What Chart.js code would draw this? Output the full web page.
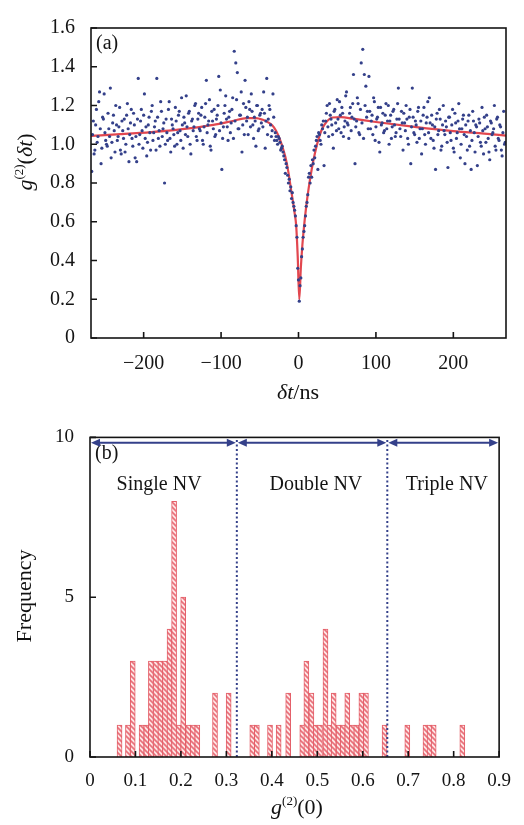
<!DOCTYPE html>
<html><head><meta charset="utf-8">
<script src="https://cdn.jsdelivr.net/npm/chart.js@4/dist/chart.umd.min.js"></script>
<style>
html,body{margin:0;padding:0;background:#fff;width:524px;height:825px;overflow:hidden;}
#cA{position:absolute;left:0;top:0;}
#cB{position:absolute;left:0;top:410px;}
.t{position:absolute;font-family:'Liberation Serif','Times New Roman',serif;font-size:22px;color:#111;white-space:nowrap;line-height:1;}
.rot{transform:translate(-50%,-50%) rotate(-90deg);}
.ctr{transform:translate(-50%,-50%);}
.sup{font-size:13px;position:relative;top:-9px;}
</style></head>
<body>
<canvas id="cA" width="524" height="410"></canvas>
<canvas id="cB" width="524" height="415"></canvas>
<div class="t rot" style="left:25px;top:162px;"><i>g</i><span class="sup">(2)</span>(<i>δt</i>)</div>
<div class="t ctr" style="left:298px;top:392px;"><i>δt</i>/ns</div>
<div class="t rot" style="left:24px;top:596px;">Frequency</div>
<div class="t ctr" style="left:297px;top:807px;"><i>g</i><span class="sup">(2)</span>(0)</div>
<script>
// ---------- (a) g2(δt) measurement: odd-ns bins ----------
const delayNs = [
-267,-265,-263,-261,-259,-257,-255,-253,-251,-249,
-247,-245,-243,-241,-239,-237,-235,-233,-231,-229,
-227,-225,-223,-221,-219,-217,-215,-213,-211,-209,
-207,-205,-203,-201,-199,-197,-195,-193,-191,-189,
-187,-185,-183,-181,-179,-177,-175,-173,-171,-169,
-167,-165,-163,-161,-159,-157,-155,-153,-151,-149,
-147,-145,-143,-141,-139,-137,-135,-133,-131,-129,
-127,-125,-123,-121,-119,-117,-115,-113,-111,-109,
-107,-105,-103,-101,-99,-97,-95,-93,-91,-89,
-87,-85,-83,-81,-79,-77,-75,-73,-71,-69,
-67,-65,-63,-61,-59,-57,-55,-53,-51,-49,
-47,-45,-43,-41,-39,-37,-35,-33,-31,-29,
-27,-25,-23,-21,-19,-17,-15,-13,-11,-9,
-7,-5,-3,-1,1,3,5,7,9,11,
13,15,17,19,21,23,25,27,29,
31,33,35,37,39,41,43,45,47,49,
51,53,55,57,59,61,63,65,67,69,
71,73,75,77,79,81,83,85,87,89,
91,93,95,97,99,101,103,105,107,109,
111,113,115,117,119,121,123,125,127,129,
131,133,135,137,139,141,143,145,147,149,
151,153,155,157,159,161,163,165,167,169,
171,173,175,177,179,181,183,185,187,189,
191,193,195,197,199,201,203,205,207,209,
211,213,215,217,219,221,223,225,227,229,
231,233,235,237,239,241,243,245,247,249,
251,253,255,257,259,261,263,265,267];
const g2Measured = [
0.86,1.12,0.97,1.18,1.04,1.27,0.90,1.14,1.26,1.02,
0.99,1.08,1.29,1.01,1.15,0.96,1.10,1.04,1.19,0.95,
1.07,1.13,1.00,1.21,0.91,1.11,1.03,1.16,0.93,0.91,
1.34,1.05,1.18,0.98,1.26,1.09,1.01,1.14,0.97,1.20,
1.06,1.12,1.34,1.03,0.99,1.17,1.08,0.80,1.13,1.02,
1.22,0.96,1.10,1.05,1.19,1.00,1.15,1.07,1.24,0.98,
1.11,1.25,1.04,1.17,0.95,1.13,1.09,1.21,1.02,1.16,
1.07,1.19,1.00,1.14,1.33,1.10,1.23,0.97,1.12,1.18,
1.05,1.15,1.35,1.28,0.87,1.09,1.20,1.13,1.02,1.17,
1.11,1.24,1.48,1.42,1.37,1.08,1.15,0.96,1.21,1.33,
1.12,1.05,1.18,1.26,1.10,1.14,0.99,1.20,1.08,1.16,
1.18,1.27,0.98,1.34,1.13,1.18,1.04,1.26,1.02,1.04,
1.00,1.03,0.97,0.99,0.94,0.85,0.88,0.80,0.76,0.72,
0.70,0.66,0.58,0.36,0.19,0.31,0.46,0.55,0.63,0.70,
0.83,0.80,0.83,0.90,0.93,1.02,0.87,1.05,1.00,
1.08,0.89,1.12,1.20,1.04,1.15,1.10,0.98,1.18,1.07,
1.13,1.22,1.06,1.16,1.09,1.25,1.11,1.03,1.19,1.14,
1.36,0.90,1.12,1.21,1.05,1.42,1.49,1.36,1.30,1.17,
1.35,1.08,1.15,1.24,1.02,1.13,1.19,0.96,1.10,1.16,
1.07,1.21,1.12,1.00,1.15,1.09,1.18,1.04,1.13,1.29,
1.08,1.17,0.97,1.11,1.20,1.03,1.14,0.90,1.29,1.06,
1.12,1.01,1.19,1.08,0.95,1.15,1.05,1.11,1.22,1.24,
1.03,1.10,0.98,0.87,1.16,1.07,1.13,0.99,1.20,1.05,
1.09,0.88,1.14,1.02,1.18,0.96,1.11,1.06,1.21,0.93,
1.08,1.15,0.90,1.04,1.12,0.99,0.87,1.17,1.06,1.10,
0.89,1.13,1.01,1.19,0.95,1.08,1.15,1.03,0.92,1.11,
1.06,1.20,0.97,1.14,1.02,1.09,0.94,1.17,1.01];
// ---------- (a) even-ns bins ----------
const delayNsEven = [
-266,-264,-262,-260,-258,-256,-254,-252,-250,-248,
-246,-244,-242,-240,-238,-236,-234,-232,-230,-228,
-226,-224,-222,-220,-218,-216,-214,-212,-210,-208,
-206,-204,-202,-200,-198,-196,-194,-192,-190,-188,
-186,-184,-182,-180,-178,-176,-174,-172,-170,-168,
-166,-164,-162,-160,-158,-156,-154,-152,-150,-148,
-146,-144,-142,-140,-138,-136,-134,-132,-130,-128,
-126,-124,-122,-120,-118,-116,-114,-112,-110,-108,
-106,-104,-102,-100,-98,-96,-94,-92,-90,-88,
-86,-84,-82,-80,-78,-76,-74,-72,-70,-68,
-66,-64,-62,-60,-58,-56,-54,-52,-50,-48,
-46,-44,-42,-40,-38,-36,-34,-32,-30,-28,
-26,-24,-22,-20,-18,-16,-14,-12,-10,-8,
-6,-4,-2,0,2,4,6,8,10,12,
14,16,18,20,22,24,26,28,30,
32,34,36,38,40,42,44,46,48,50,
52,54,56,58,60,62,64,66,68,70,
72,74,76,78,80,82,84,86,88,90,
92,94,96,98,100,102,104,106,108,110,
112,114,116,118,120,122,124,126,128,130,
132,134,136,138,140,142,144,146,148,150,
152,154,156,158,160,162,164,166,168,170,
172,174,176,178,180,182,184,186,188,190,
192,194,196,198,200,202,204,206,208,210,
212,214,216,218,220,222,224,226,228,230,
232,234,236,238,240,242,244,246,248,250,
252,254,256,258,260,262,264,266];
const g2MeasuredEven = [
1.05,0.95,1.10,1.01,1.22,1.08,0.98,1.13,1.06,1.00,
1.16,1.04,0.93,1.11,1.07,1.20,1.02,1.09,0.97,1.12,
1.03,0.96,1.15,1.08,1.05,1.18,0.99,1.10,1.04,1.13,
1.00,1.12,1.07,1.15,1.03,0.94,1.10,1.06,1.17,1.02,
1.09,0.97,1.14,1.07,1.22,1.04,1.11,1.00,1.06,1.18,
1.03,1.13,1.08,0.99,1.12,1.06,1.17,1.02,1.10,1.14,
1.05,1.09,1.16,1.00,1.12,1.07,1.20,1.04,1.13,1.08,
1.15,1.02,1.09,1.21,1.06,1.12,0.99,1.17,1.08,1.04,
1.13,1.20,1.07,1.11,1.03,1.16,1.25,1.09,1.14,1.06,
1.18,1.03,1.12,1.23,1.08,1.15,1.27,1.10,1.05,1.19,
1.14,1.22,1.09,1.17,1.03,1.12,1.20,1.07,1.15,1.11,
1.09,1.16,1.12,1.05,1.20,1.10,1.07,1.14,1.06,1.02,
1.04,1.01,0.98,0.96,0.92,0.90,0.84,0.82,0.78,0.75,
0.68,0.63,0.52,0.30,0.27,0.42,0.52,0.58,0.68,0.74,
0.85,0.89,0.92,0.97,0.99,1.04,1.06,1.02,1.10,
1.12,1.06,1.16,1.09,1.21,1.13,1.05,1.17,1.11,1.23,
1.08,1.15,1.19,1.04,1.12,1.27,1.10,1.16,1.07,1.21,
1.13,1.09,1.24,1.06,1.18,1.11,1.03,1.20,1.14,1.08,
1.17,1.12,1.05,1.22,1.09,1.14,1.01,1.19,1.11,1.06,
1.15,1.08,1.20,1.12,1.03,1.17,1.10,1.06,1.21,1.13,
1.04,1.11,1.16,1.07,1.13,1.00,1.18,1.09,1.14,1.05,
1.10,1.17,1.03,1.12,1.08,1.19,1.00,1.14,1.06,1.11,
1.15,1.02,1.09,1.13,1.05,1.18,0.97,1.10,1.07,1.12,
1.01,1.14,1.06,1.10,0.98,1.16,1.03,1.12,1.08,1.00,
1.13,1.05,1.10,0.97,1.15,1.07,1.02,1.12,0.96,1.09,
1.04,1.11,0.99,1.07,1.14,1.01,1.09,0.96,1.12,1.05,
1.08,0.99,1.13,1.03,1.10,0.97,1.06,1.00];
const fitDelayNs = [-268,-230,-190,-150,-110,-85,-67,-55,-46,-40,-34,-29,-25,-21,-17,-13,-10,-7,-5,-3,-1,1,3,5,7,10,13,17,21,25,30,36,44,55,70,100,150,200,240,268];
const g2Fit = [1.043,1.052,1.063,1.078,1.100,1.120,1.135,1.135,1.126,1.115,1.098,1.070,1.035,0.990,0.935,0.855,0.775,0.700,0.645,0.580,0.420,0.200,0.360,0.480,0.570,0.680,0.770,0.870,0.950,1.015,1.075,1.115,1.138,1.140,1.132,1.115,1.090,1.068,1.055,1.045];
const topXRange = [-268, 268];
const topXTicks = [-200, -100, 0, 100, 200];
const topYTicks = [0, 0.2, 0.4, 0.6, 0.8, 1.0, 1.2, 1.4, 1.6];

// ---------- (b) histogram of g2(0) ----------
const g2ZeroBins = [0.065,0.0835,0.094,0.1135,0.124,0.134,0.145,0.155,0.165,0.175,0.185,0.195,0.205,0.216,0.226,0.236,0.275,0.305,0.357,0.367,0.396,0.415,0.436,0.467,0.476,0.487,0.497,0.506,0.518,0.527,0.536,0.547,0.556,0.566,0.576,0.586,0.597,0.607,0.648,0.698,0.738,0.747,0.756,0.819];
const frequency = [1,1,3,1,1,3,3,3,3,4,8,1,5,1,1,1,2,2,1,1,1,1,2,1,3,2,1,1,4,1,2,1,1,2,1,1,2,2,1,1,1,1,1,1];
const regionBounds = [0, 0.323, 0.654, 0.9];
const regionNames = ['Single NV', 'Double NV', 'Triple NV'];
const regionLabelX = [0.152, 0.497, 0.785];
const regionLabelY = 8.52;
const arrowLevel = 9.83;
const botXTicks = [0, 0.1, 0.2, 0.3, 0.4, 0.5, 0.6, 0.7, 0.8, 0.9];
const botYTicks = [0, 5, 10];

// ---------- styling ----------
const FONT = "'Liberation Serif','Times New Roman',serif";
const tickFontA = {family: FONT, size: 20};
const tickFontB = {family: FONT, size: 19};
const INK = '#141414';
const NAVY = '#34408a';

const boxPlugin = {
  id: 'boxTicks',
  afterDatasetsDraw(chart) {
    const {ctx, chartArea: a} = chart;
    const xs = chart.scales.x, ys = chart.scales.y;
    ctx.save();
    ctx.strokeStyle = INK;
    ctx.lineWidth = 1.6;
    ctx.beginPath();
    xs.ticks.forEach(t => { const p = xs.getPixelForValue(t.value); ctx.moveTo(p, a.bottom); ctx.lineTo(p, a.bottom - 6); });
    ys.ticks.forEach(t => { const p = ys.getPixelForValue(t.value); ctx.moveTo(a.left, p); ctx.lineTo(a.left + 6, p); });
    ctx.stroke();
    ctx.strokeRect(a.left, a.top, a.right - a.left, a.bottom - a.top);
    ctx.restore();
  }
};

const panelLabel = (txt) => ({
  id: 'panel',
  afterDatasetsDraw(chart) {
    const {ctx, chartArea: a} = chart;
    ctx.save();
    ctx.font = "20px " + FONT;
    ctx.fillStyle = INK;
    ctx.textBaseline = 'middle';
    ctx.fillText(txt, a.left + 5, a.top + 16);
    ctx.restore();
  }
});

const fixedTicks = arr => (s => { s.ticks = arr.map(v => ({value: v})); });

const measuredPoints = delayNs.map((x, i) => ({x, y: g2Measured[i]}))
  .concat(delayNsEven.map((x, i) => ({x, y: g2MeasuredEven[i]})));

// ---------- chart (a) ----------
new Chart(document.getElementById('cA'), {
  data: {
    datasets: [
      {type: 'scatter', data: measuredPoints,
       pointRadius: 1.6, pointHoverRadius: 1.6, pointBackgroundColor: NAVY, pointBorderWidth: 0, order: 0},
      {type: 'line', data: fitDelayNs.map((x, i) => ({x, y: g2Fit[i]})),
       borderColor: '#e2474f', borderWidth: 2.2, pointRadius: 0, cubicInterpolationMode: 'monotone', fill: false, order: 1}
    ]
  },
  options: {
    responsive: false, animation: false,
    layout: {padding: {left: 0, right: 18, top: 14, bottom: 0}},
    plugins: {legend: {display: false}, tooltip: {enabled: false}},
    scales: {
      x: {type: 'linear', min: topXRange[0], max: topXRange[1],
          grid: {display: false, drawTicks: false}, border: {display: false},
          afterBuildTicks: fixedTicks(topXTicks),
          ticks: {padding: 14, font: tickFontA, color: INK, maxRotation: 0, autoSkip: false,
                  callback: v => v < 0 ? '\u2212' + Math.abs(v) : String(v)},
          afterFit: s => { s.height = 72; }},
      y: {type: 'linear', min: 0, max: 1.6,
          grid: {display: false, drawTicks: false}, border: {display: false},
          afterBuildTicks: fixedTicks(topYTicks),
          ticks: {padding: 16, font: tickFontA, color: INK, autoSkip: false,
                  callback: v => v === 0 ? '0' : v.toFixed(1)},
          afterFit: s => { s.width = 91; }}
    }
  },
  plugins: [boxPlugin, panelLabel('(a)')]
});

// ---------- chart (b) ----------
const tile = document.createElement('canvas');
tile.width = 5; tile.height = 5;
const tc = tile.getContext('2d');
tc.fillStyle = '#fde6e6'; tc.fillRect(0, 0, 5, 5);
tc.strokeStyle = '#e9707a'; tc.lineWidth = 1.6;
tc.beginPath();
tc.moveTo(-1, -1); tc.lineTo(6, 6);
tc.moveTo(-1, 4); tc.lineTo(1, 6);
tc.moveTo(4, -1); tc.lineTo(6, 1);
tc.stroke();
const hatch = tc.createPattern(tile, 'repeat');

const regionPlugin = {
  id: 'regions',
  afterDatasetsDraw(chart) {
    const {ctx} = chart;
    const xs = chart.scales.x, ys = chart.scales.y;
    const yA = ys.getPixelForValue(arrowLevel);
    ctx.save();
    ctx.strokeStyle = NAVY; ctx.fillStyle = NAVY; ctx.lineWidth = 2;
    for (let i = 0; i < regionBounds.length - 1; i++) {
      const x0 = xs.getPixelForValue(regionBounds[i]) + 1;
      const x1 = xs.getPixelForValue(regionBounds[i + 1]) - 1;
      ctx.beginPath(); ctx.moveTo(x0 + 4, yA); ctx.lineTo(x1 - 4, yA); ctx.stroke();
      ctx.beginPath(); ctx.moveTo(x0, yA); ctx.lineTo(x0 + 9, yA - 4); ctx.lineTo(x0 + 9, yA + 4); ctx.closePath(); ctx.fill();
      ctx.beginPath(); ctx.moveTo(x1, yA); ctx.lineTo(x1 - 9, yA - 4); ctx.lineTo(x1 - 9, yA + 4); ctx.closePath(); ctx.fill();
    }
    ctx.font = "20px " + FONT;
    ctx.fillStyle = INK; ctx.textAlign = 'center'; ctx.textBaseline = 'middle';
    regionNames.forEach((n, i) => ctx.fillText(n, xs.getPixelForValue(regionLabelX[i]), ys.getPixelForValue(regionLabelY)));
    ctx.restore();
  }
};

new Chart(document.getElementById('cB'), {
  data: {
    datasets: [
      {type: 'bar', data: g2ZeroBins.map((x, i) => ({x, y: frequency[i]})),
       backgroundColor: hatch, borderColor: '#e45e68', borderWidth: 1, barThickness: 5, grouped: false, order: 2},
      {type: 'line', data: [{x: regionBounds[1], y: 0}, {x: regionBounds[1], y: 10}],
       borderColor: NAVY, borderWidth: 2, borderDash: [2, 2.5], pointRadius: 0, order: 0},
      {type: 'line', data: [{x: regionBounds[2], y: 0}, {x: regionBounds[2], y: 10}],
       borderColor: NAVY, borderWidth: 2, borderDash: [2, 2.5], pointRadius: 0, order: 0}
    ]
  },
  options: {
    responsive: false, animation: false,
    layout: {padding: {left: 0, right: 19, top: 22, bottom: 0}},
    plugins: {legend: {display: false}, tooltip: {enabled: false}},
    scales: {
      x: {type: 'linear', min: 0, max: 0.9, offset: false,
          grid: {display: false, drawTicks: false}, border: {display: false},
          afterBuildTicks: fixedTicks(botXTicks),
          ticks: {padding: 13, font: tickFontB, color: INK, maxRotation: 0, autoSkip: false,
                  callback: v => v === 0 ? '0' : v.toFixed(1)},
          afterFit: s => { s.height = 68; }},
      y: {type: 'linear', min: 0, max: 10,
          grid: {display: false, drawTicks: false}, border: {display: false},
          afterBuildTicks: fixedTicks(botYTicks),
          ticks: {padding: 16, font: tickFontB, color: INK, autoSkip: false},
          afterFit: s => { s.width = 90; }}
    }
  },
  plugins: [boxPlugin, panelLabel('(b)'), regionPlugin]
});
</script>
</body></html>
